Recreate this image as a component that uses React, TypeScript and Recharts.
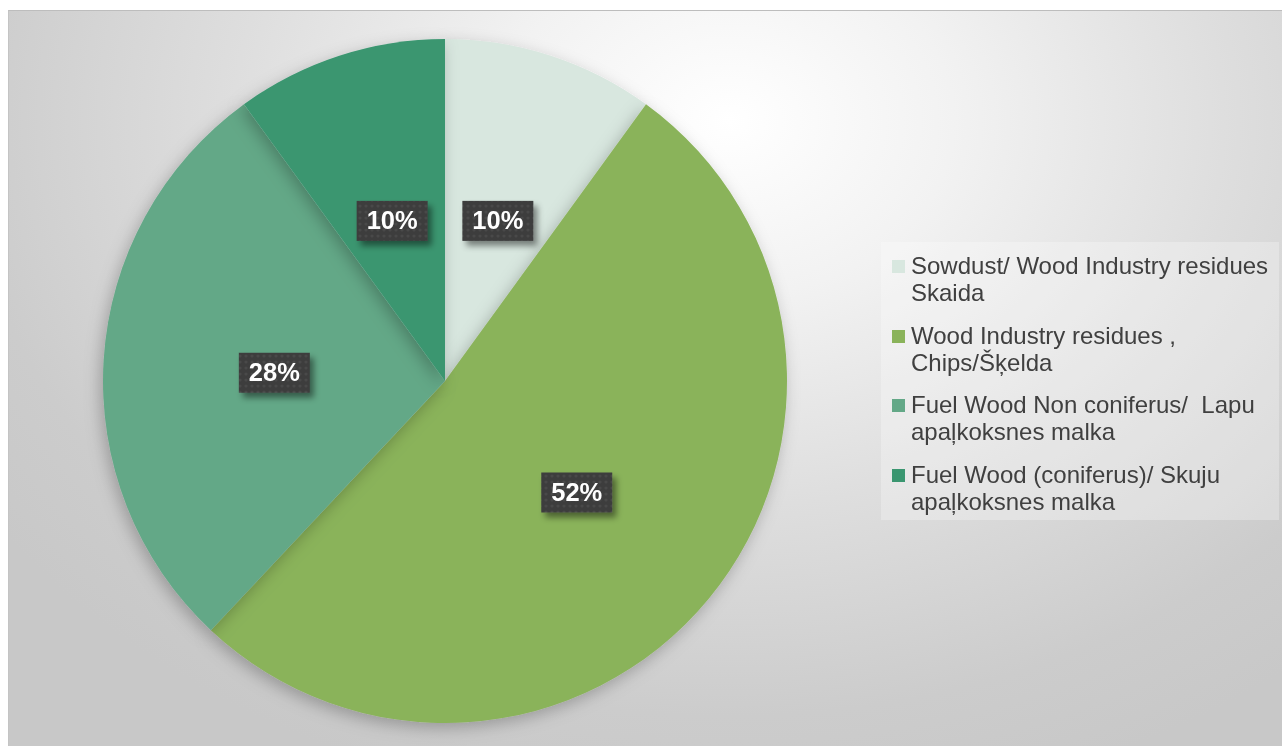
import React from "react";
import { PieChart, Pie, Cell, Legend } from "recharts";

const categories = [
  "Sowdust/ Wood Industry residues Skaida",
  "Wood Industry residues , Chips/Šķelda",
  "Fuel Wood Non coniferus/  Lapu apaļkoksnes malka",
  "Fuel Wood (coniferus)/ Skuju apaļkoksnes malka",
];
const legendLines = [
  ["Sowdust/ Wood Industry residues", "Skaida"],
  ["Wood Industry residues ,", "Chips/Šķelda"],
  ["Fuel Wood Non coniferus/  Lapu", "apaļkoksnes malka"],
  ["Fuel Wood (coniferus)/ Skuju", "apaļkoksnes malka"],
];
const values = [10, 52, 28, 10];
const colors = ["#d8e7df", "#8ab35a", "#63a887", "#3a9670"];

const data = categories.map((name, i) => ({ name, value: values[i] }));

const RAD = Math.PI / 180;

const renderLabel = (props: any) => {
  const { cx, cy, midAngle, outerRadius, percent } = props;
  const r = outerRadius * 0.5;
  const x = cx + r * Math.cos(-midAngle * RAD);
  const y = cy + r * Math.sin(-midAngle * RAD) + 2.5;
  const w = 71;
  const h = 40;
  return (
    <g>
      <rect
        x={x - w / 2}
        y={y - h / 2}
        width={w}
        height={h}
        fill="url(#dotPat)"
        filter="url(#boxShadow)"
      />
      <text
        x={x}
        y={y + 1.5}
        textAnchor="middle"
        dominantBaseline="middle"
        fill="#ffffff"
        fontFamily="Liberation Sans, Arial, sans-serif"
        fontWeight="bold"
        fontSize={25.5}
      >
        {`${Math.round(percent * 100)}%`}
      </text>
    </g>
  );
};

const renderLegend = () => {
  return (
    <div
      style={{
        width: 398,
        height: 278,
        background: "rgba(255,255,255,0.28)",
        boxSizing: "border-box",
        paddingTop: 10,
        fontFamily: "Liberation Sans, Arial, sans-serif",
      }}
    >
      {categories.map((c, i) => (
        <div
          key={c}
          style={{ display: "flex", alignItems: "flex-start", height: 69.5 }}
        >
          <div
            style={{
              width: 13,
              height: 13,
              background: colors[i],
              marginLeft: 11,
              marginTop: 8,
              marginRight: 6,
              flex: "none",
            }}
          />
          <div style={{ fontSize: 24, lineHeight: "27px", color: "#404040" }}>
            {legendLines[i].map((l, j) => (
              <div key={j} style={{ whiteSpace: "pre" }}>
                {l}
              </div>
            ))}
          </div>
        </div>
      ))}
    </div>
  );
};

export default function App() {
  return (
    <div
      style={{
        position: "fixed",
        left: 8,
        top: 10,
        width: 1274,
        height: 736,
        boxSizing: "border-box",
        borderTop: "1px solid #bdbdbd",
        borderLeft: "1px solid #c4c4c4",
        background:
          "radial-gradient(ellipse 900px 700px at 720px 110px, #ffffff 0%, #f2f2f2 25%, #dedede 55%, #cccccc 85%, #c8c8c8 100%)",
        overflow: "hidden",
      }}
    >
      <PieChart
        width={1273}
        height={735}
        margin={{ top: 0, right: 0, bottom: 0, left: 0 }}
        style={{ position: "absolute", left: 0, top: 0 }}
      >
        <defs>
          <pattern id="dotPat" width="6" height="6" patternUnits="userSpaceOnUse">
            <rect width="6" height="6" fill="#3d3d3d" />
            <circle cx="3" cy="3" r="1.6" fill="#4a4a4a" />
          </pattern>
          <filter id="boxShadow" x="-30%" y="-30%" width="170%" height="180%">
            <feDropShadow dx="4" dy="5" stdDeviation="3" floodColor="#000" floodOpacity="0.45" />
          </filter>
          <filter id="pieShadow" x="-20%" y="-20%" width="140%" height="140%">
            <feDropShadow dx="-3" dy="5" stdDeviation="8" floodColor="#000" floodOpacity="0.25" />
          </filter>
        </defs>
        <Pie
          data={data}
          dataKey="value"
          nameKey="name"
          cx={436}
          cy={370}
          outerRadius={342}
          startAngle={90}
          endAngle={-270}
          stroke="none"
          label={renderLabel}
          labelLine={false}
          isAnimationActive={false}
          style={{ filter: "url(#pieShadow)" }}
        >
          {data.map((d, i) => (
            <Cell key={i} fill={colors[i]} />
          ))}
        </Pie>
        <Legend
          layout="vertical"
          align="right"
          verticalAlign="top"
          content={renderLegend}
          wrapperStyle={{ left: 872, top: 231, width: 398 }}
        />
      </PieChart>
    </div>
  );
}
